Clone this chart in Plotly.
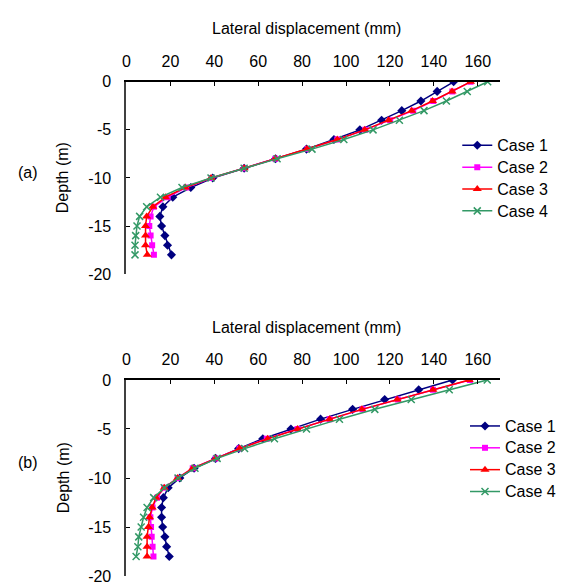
import plotly.graph_objects as go

depth = [0, -1, -2, -3, -4, -5, -6, -7, -8, -9, -10, -11, -12, -13, -14, -15, -16, -17, -18]

a_case1 = [149.0, 141.5, 134.1, 125.4, 116.2, 106.3, 94.5, 82.0, 67.9, 53.6, 39.3, 29.3, 21.1, 16.6, 15.2, 16.0, 17.5, 18.7, 20.5]
a_case2 = [156.7, 148.4, 139.7, 130.6, 120.1, 108.8, 96.0, 82.5, 67.8, 53.6, 38.8, 27.2, 18.8, 12.5, 11.0, 10.4, 11.0, 11.7, 12.5]
a_case3 = [156.7, 148.3, 139.4, 129.9, 119.4, 108.5, 96.0, 82.2, 67.8, 53.6, 38.5, 26.8, 17.8, 12.0, 9.2, 8.7, 8.7, 8.7, 9.5]
a_case4 = [164.5, 155.2, 145.7, 135.5, 124.3, 112.3, 99.0, 84.5, 68.6, 53.6, 38.5, 25.3, 15.5, 9.2, 6.0, 4.8, 4.2, 3.9, 3.9]

b_case1 = [148.5, 133.1, 117.6, 103.0, 88.4, 74.9, 62.1, 51.1, 40.6, 30.8, 24.3, 19.0, 16.8, 16.0, 16.0, 16.5, 17.5, 18.3, 19.5]
b_case2 = [156.4, 139.6, 123.6, 107.5, 92.5, 77.9, 63.9, 51.5, 40.6, 30.2, 23.3, 17.2, 13.9, 11.9, 10.9, 11.2, 11.5, 11.9, 12.3]
b_case3 = [156.1, 139.6, 123.3, 107.2, 92.5, 77.9, 64.3, 51.5, 40.6, 30.2, 23.3, 17.2, 13.5, 11.7, 10.5, 10.0, 9.4, 9.4, 9.4]
b_case4 = [164.3, 147.0, 129.7, 113.1, 97.0, 82.0, 67.4, 53.8, 41.3, 31.2, 23.5, 17.2, 12.4, 9.4, 7.8, 6.7, 5.6, 5.2, 4.4]

case_names = ["Case 1", "Case 2", "Case 3", "Case 4"]
x_ticks = [0, 20, 40, 60, 80, 100, 120, 140, 160]
y_ticks = [0, -5, -10, -15, -20]
y_ticktext = ["0", "-5", "-10", "-15", "-20"]

colors = ["#000080", "#FF00FF", "#FF0000", "#339966"]
symbols = ["diamond", "square", "triangle-up", "x-thin"]
msizes = [7, 6, 8, 7]

FONT = "Liberation Sans, Arial, sans-serif"
W, H = 561, 588

fig = go.Figure()

panels = [
    ([a_case1, a_case2, a_case3, a_case4], "x", "y", "legend"),
    ([b_case1, b_case2, b_case3, b_case4], "x2", "y2", "legend2"),
]
for series, xa, ya, lg in panels:
    for i, vals in enumerate(series):
        mk = dict(symbol=symbols[i], size=msizes[i], color=colors[i])
        if symbols[i] == "x-thin":
            mk["line"] = dict(color=colors[i], width=1.5)
        fig.add_trace(go.Scatter(
            x=vals, y=depth,
            name='<span style="font-size:16px">' + case_names[i] + '</span>',
            mode="lines+markers",
            line=dict(color=colors[i], width=1.5), marker=mk,
            xaxis=xa, yaxis=ya, legend=lg,
        ))

def px_x(p):
    return p / W

def px_y(p):
    return 1 - p / H

xdom = [px_x(124), px_x(502)]
ya_dom = [px_y(274), px_y(76)]
yb_dom = [px_y(585), px_y(383)]

xcommon = dict(range=[0, 170], side="top", tickvals=x_ticks, ticks="inside", ticklen=4,
               tickcolor="#000", showline=True, linecolor="#000", linewidth=1.5,
               showgrid=False, zeroline=False, domain=xdom, ticklabelstandoff=7,
               tickfont=dict(family=FONT, size=16, color="#000"))
ycommon = dict(range=[-20, 0], tickvals=y_ticks, ticktext=y_ticktext, ticks="inside", ticklen=4,
               tickcolor="#000", showline=True, linecolor="#404040", linewidth=2,
               showgrid=False, zeroline=False, ticklabelstandoff=10,
               tickfont=dict(family=FONT, size=16, color="#000"))

legcommon = dict(xanchor="left", yanchor="top", bgcolor="rgba(0,0,0,0)",
                 font=dict(family=FONT, size=14.5, color="#000"), tracegroupgap=0)

fig.update_layout(
    width=W, height=H,
    margin=dict(l=0, r=0, t=0, b=0),
    paper_bgcolor="white", plot_bgcolor="white",
    font=dict(family=FONT, size=16, color="#000"),
    xaxis=dict(**xcommon, anchor="y"),
    yaxis=dict(**ycommon, domain=ya_dom, anchor="x"),
    xaxis2=dict(**xcommon, anchor="y2"),
    yaxis2=dict(**ycommon, domain=yb_dom, anchor="x2"),
    legend=dict(x=px_x(459), y=px_y(125), **legcommon),
    legend2=dict(x=px_x(467), y=px_y(414), **legcommon),
    showlegend=True,
)

annots = [
    ("Lateral displacement (mm)", 306, 21, 0),
    ("Lateral displacement (mm)", 306, 329, 0),
    ("Depth (m)", 60, 175, -90),
    ("Depth (m)", 60, 484, -90),
    ("(a)", 24, 169, 0),
    ("(b)", 24, 468, 0),
]
for text, x, y, ang in annots:
    fig.add_annotation(text=text, x=px_x(x), y=px_y(y), xref="paper", yref="paper",
                       showarrow=False, textangle=ang, xanchor="center", yanchor="middle",
                       font=dict(family=FONT, size=16, color="#000"))

fig.write_html("out.html")
